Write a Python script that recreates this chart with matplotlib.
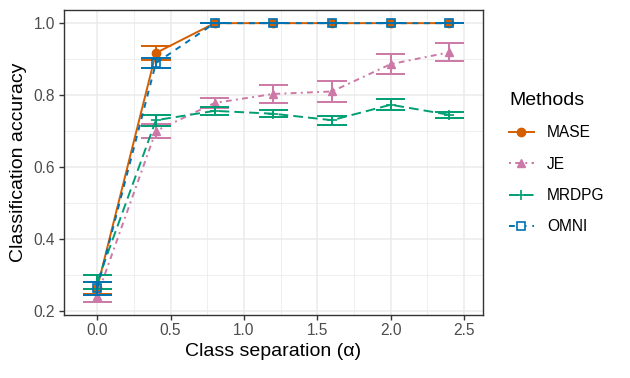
import matplotlib
matplotlib.use("Agg")
import matplotlib.pyplot as plt
from matplotlib.lines import Line2D
import numpy as np

plt.rcParams['font.family'] = ['Liberation Sans', 'DejaVu Sans']

alpha = [0.0, 0.4, 0.8, 1.2, 1.6, 2.0, 2.4]
methods = ["MASE", "JE", "MRDPG", "OMNI"]
mase_mean = [0.264, 0.917, 1.0, 1.0, 1.0, 1.0, 1.0]
mase_err = [0.017, 0.02, 0.0, 0.0, 0.0, 0.0, 0.0]
je_mean = [0.242, 0.700, 0.778, 0.803, 0.810, 0.886, 0.919]
je_err = [0.019, 0.02, 0.014, 0.025, 0.029, 0.028, 0.025]
mrdpg_mean = [0.280, 0.730, 0.756, 0.748, 0.730, 0.773, 0.745]
mrdpg_err = [0.020, 0.015, 0.011, 0.010, 0.013, 0.016, 0.009]
omni_mean = [0.262, 0.889, 1.0, 1.0, 1.0, 1.0, 1.0]
omni_err = [0.017, 0.014, 0.0, 0.0, 0.0, 0.0, 0.0]

means = [mase_mean, je_mean, mrdpg_mean, omni_mean]
errs = [mase_err, je_err, mrdpg_err, omni_err]
colors = ["#D55E00", "#CC79A7", "#009E73", "#0072B2"]
markers = ["o", "^", "+", "s"]
dashes = [None, (1.0, 2.2, 3.0, 2.2), (5.0, 2.6), (3.0, 3.0)]

fig = plt.figure(figsize=(6.3, 3.78), dpi=100)
ax = fig.add_axes([63.5/630, 1-315/378, (482.7-63.5)/630, (315-9.5)/378])

# grid
for v in [0.25, 0.75, 1.25, 1.75, 2.25]:
    ax.axvline(v, color="#EBEBEB", lw=0.55, zorder=0)
for v in [0.3, 0.5, 0.7, 0.9]:
    ax.axhline(v, color="#EBEBEB", lw=0.55, zorder=0)
for v in [0.0, 0.5, 1.0, 1.5, 2.0, 2.5]:
    ax.axvline(v, color="#EBEBEB", lw=1.1, zorder=0)
for v in [0.2, 0.4, 0.6, 0.8, 1.0]:
    ax.axhline(v, color="#EBEBEB", lw=1.1, zorder=0)

hw = 0.1
x = np.array(alpha)
for i, (m, e, c, mk, d) in enumerate(zip(means, errs, colors, markers, dashes)):
    m = np.array(m); e = np.array(e)
    z = 2 + i
    ax.vlines(x, m - e, m + e, color=c, lw=1.4, zorder=z)
    ax.hlines(m - e, x - hw, x + hw, color=c, lw=1.4, zorder=z)
    ax.hlines(m + e, x - hw, x + hw, color=c, lw=1.4, zorder=z)
    ln, = ax.plot(x, m, color=c, lw=1.4, zorder=z)
    if d is not None:
        ln.set_dashes(d)
    if mk == "s":
        ax.plot(x, m, ls="none", marker="s", ms=5.5, mfc="none", mec=c, mew=1.2, zorder=z + 0.5)
    elif mk == "+":
        ax.plot(x, m, ls="none", marker="+", ms=7, mec=c, mew=1.2, zorder=z + 0.5)
    else:
        ax.plot(x, m, ls="none", marker=mk, ms=6, mfc=c, mec=c, zorder=z + 0.5)

ax.set_xlim(-0.23, 2.627)
ax.set_ylim(0.188, 1.038)
ax.set_xticks([0.0, 0.5, 1.0, 1.5, 2.0, 2.5])
ax.set_xticklabels(["0.0", "0.5", "1.0", "1.5", "2.0", "2.5"])
ax.set_yticks([0.2, 0.4, 0.6, 0.8, 1.0])
ax.set_yticklabels(["0.2", "0.4", "0.6", "0.8", "1.0"])
ax.tick_params(axis="both", length=3.5, width=1.0, color="#333333",
               labelcolor="#4D4D4D", labelsize=11.2, pad=2.5)
for s in ax.spines.values():
    s.set_color("#333333")
    s.set_linewidth(1.0)
ax.set_xlabel("Class separation (\u03b1)", fontsize=14, color="black", labelpad=3)
ax.set_ylabel("Classification accuracy", fontsize=14, color="black", labelpad=5)

handles = []
for lab, c, mk, d in zip(methods, colors, markers, dashes):
    kw = dict(color=c, lw=1.4)
    if mk == "s":
        h = Line2D([0], [0], marker="s", ms=5.5, mfc="white", mec=c, mew=1.2, **kw)
    elif mk == "+":
        h = Line2D([0], [0], marker="+", ms=7, mec=c, mew=1.2, **kw)
    else:
        h = Line2D([0], [0], marker=mk, ms=6, mfc=c, mec=c, **kw)
    if d is not None:
        h.set_dashes(d)
    handles.append(h)

leg = fig.legend(handles, methods, title="Methods", loc="upper left",
                 bbox_to_anchor=(509/630, 1-92/378), frameon=False,
                 fontsize=11.2, title_fontsize=14, handlelength=1.6,
                 labelspacing=1.05, handletextpad=0.85, borderaxespad=0,
                 borderpad=0)
leg._legend_box.align = "left"

fig.savefig("out.png", dpi=100)
